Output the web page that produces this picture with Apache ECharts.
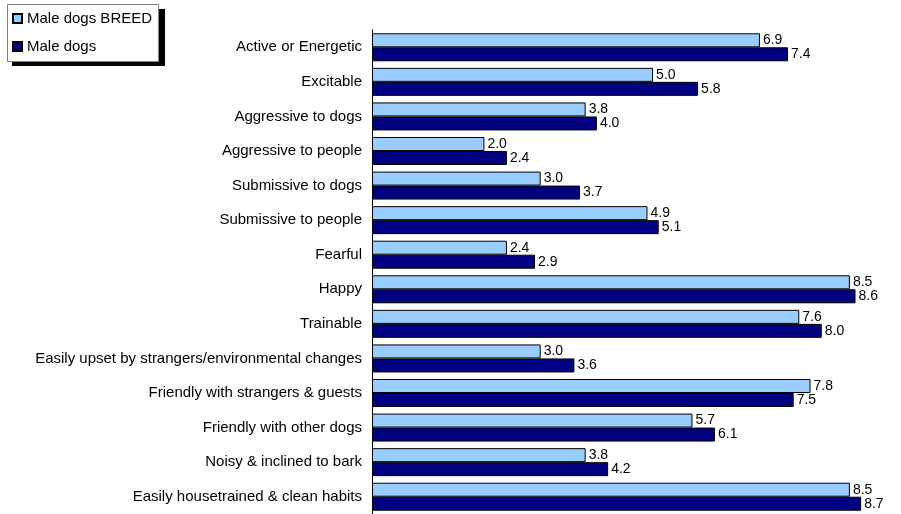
<!DOCTYPE html>
<html>
<head>
<meta charset="utf-8">
<script src="https://cdn.jsdelivr.net/npm/echarts@6/dist/echarts.min.js"></script>
<style>
html,body{margin:0;padding:0;background:#fff;}
#chart{width:901px;height:514px;}
</style>
</head>
<body>
<div id="chart"></div>
<script>
const categories = [
  "Active or Energetic",
  "Excitable",
  "Aggressive to dogs",
  "Aggressive to people",
  "Submissive to dogs",
  "Submissive to people",
  "Fearful",
  "Happy",
  "Trainable",
  "Easily upset by strangers/environmental changes",
  "Friendly with strangers & guests",
  "Friendly with other dogs",
  "Noisy & inclined to bark",
  "Easily housetrained & clean habits"
];
const seriesNames = ["Male dogs BREED", "Male dogs"];
const breedValues = [6.9, 5.0, 3.8, 2.0, 3.0, 4.9, 2.4, 8.5, 7.6, 3.0, 7.8, 5.7, 3.8, 8.5];
const maleValues  = [7.4, 5.8, 4.0, 2.4, 3.7, 5.1, 2.9, 8.6, 8.0, 3.6, 7.5, 6.1, 4.2, 8.7];

const FONT = '"Liberation Sans", Arial, sans-serif';
const chart = echarts.init(document.getElementById('chart'), null, {renderer: 'canvas'});

function barSeries(name, data, color) {
  return {
    name: name,
    type: 'bar',
    data: data,
    barWidth: 14,
    barGap: '0%',
    itemStyle: { color: color, borderColor: '#000000', borderWidth: 1 },
    label: {
      show: true,
      position: 'right',
      distance: 3,
      color: '#000',
      fontFamily: FONT,
      fontSize: 14,
      formatter: p => p.value.toFixed(1)
    },
    animation: false
  };
}

chart.setOption({
  animation: false,
  backgroundColor: '#ffffff',
  graphic: [
    { type: 'rect', left: 12, top: 9, shape: { width: 153, height: 57 }, style: { fill: '#000000' }, z: 10 },
    { type: 'rect', left: 7, top: 4, shape: { width: 151, height: 57 }, style: { fill: '#ffffff', stroke: '#808080', lineWidth: 1 }, z: 11 }
  ],
  legend: {
    data: seriesNames,
    orient: 'vertical',
    left: 7,
    top: 4,
    padding: [7, 4, 8, 5],
    itemWidth: 9,
    itemHeight: 9,
    itemGap: 13,
    icon: 'rect',
    z: 20,
    textStyle: { fontFamily: FONT, fontSize: 15, color: '#000' }
  },
  grid: { left: 372, right: 23, top: 30, bottom: 0, containLabel: false },
  xAxis: {
    type: 'value',
    min: 0,
    max: 9,
    show: false
  },
  yAxis: {
    type: 'category',
    data: categories,
    inverse: true,
    axisLine: { show: true, lineStyle: { color: '#000', width: 1 } },
    axisTick: { show: false },
    axisLabel: { color: '#000', fontFamily: FONT, fontSize: 15, margin: 10 },
    splitLine: { show: false }
  },
  series: [
    barSeries(seriesNames[0], breedValues, '#99CCFF'),
    barSeries(seriesNames[1], maleValues, '#000080')
  ]
});
</script>
</body>
</html>
